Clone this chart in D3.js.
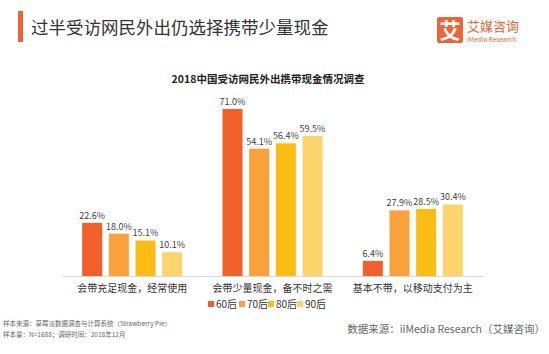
<!DOCTYPE html>
<html>
<head>
<meta charset="utf-8">
<script src="https://cdn.jsdelivr.net/npm/d3@7"></script>
<style>
  body { margin: 0; background: #fff; }
  text { font-family: "Noto Sans CJK SC", "Noto Sans", sans-serif; }
</style>
</head>
<body>
<script>
var w = 549;
var h = 354;

var categories = ["会带充足现金，经常使用", "会带少量现金，备不时之需", "基本不带，以移动支付为主"];
var series = ["60后", "70后", "80后", "90后"];
var values = [
  [22.6, 71.0, 6.4],
  [18.0, 54.1, 27.9],
  [15.1, 56.4, 28.5],
  [10.1, 59.5, 30.4]
];
var colors = ["#f15f2b", "#f9a23c", "#fbbd14", "#fdd46d"];

var svg = d3.select("body")
    .append("svg")
    .attr("width", w)
    .attr("height", h);

// header
svg.append("rect")
    .attr("x", 18).attr("y", 11)
    .attr("width", 5).attr("height", 31)
    .attr("fill", "#e8673a");

svg.append("text")
    .attr("x", 31).attr("y", 34)
    .style("font-size", "17.5px")
    .attr("fill", "#333")
    .text("过半受访网民外出仍选择携带少量现金");

// logo
svg.append("rect")
    .attr("x", 437).attr("y", 17)
    .attr("width", 26).attr("height", 26)
    .attr("rx", 2)
    .attr("fill", "#e8673a");
svg.append("text")
    .attr("x", 450).attr("y", 38)
    .style("text-anchor", "middle")
    .style("font-size", "21px")
    .style("font-weight", "bold")
    .attr("fill", "#fff")
    .text("艾");
svg.append("text")
    .attr("x", 467).attr("y", 31)
    .style("font-size", "13px")
    .attr("fill", "#e8673a")
    .text("艾媒咨询");
svg.append("text")
    .attr("x", 467).attr("y", 42)
    .style("font-size", "6.5px")
    .attr("fill", "#e8673a")
    .text("iMedia Research");

// chart title
svg.append("text")
    .attr("x", 268).attr("y", 83)
    .style("text-anchor", "middle")
    .style("font-size", "10.5px")
    .style("font-weight", "bold")
    .attr("fill", "#222")
    .text("2018中国受访网民外出携带现金情况调查");

var x0 = d3.scaleBand()
    .domain(categories)
    .range([62, 483]);

var x1 = d3.scaleBand()
    .domain(series)
    .range([0, 100])
    .paddingInner(0.25)
    .paddingOuter(0);

var y = d3.scaleLinear()
    .domain([0, 71])
    .range([276, 109]);

var groups = svg.append("g")
    .selectAll("g")
    .data(categories)
    .enter()
    .append("g")
    .attr("transform", function(d) {
      return "translate(" + (x0(d) + x0.bandwidth() / 2 - 50) + ",0)";
    });

groups.selectAll("rect")
    .data(function(d, ci) { return series.map(function(s, si) { return { s: s, si: si, v: values[si][ci] }; }); })
    .enter()
    .append("rect")
    .attr("x", function(d) { return x1(d.s); })
    .attr("y", function(d) { return y(d.v); })
    .attr("width", x1.bandwidth())
    .attr("height", function(d) { return y(0) - y(d.v); })
    .attr("fill", function(d) { return colors[d.si]; });

groups.selectAll("text")
    .data(function(d, ci) { return series.map(function(s, si) { return { s: s, si: si, v: values[si][ci] }; }); })
    .enter()
    .append("text")
    .attr("x", function(d) { return x1(d.s) + x1.bandwidth() / 2; })
    .attr("y", function(d) { return y(d.v) - 4; })
    .style("text-anchor", "middle")
    .style("font-size", "9px")
    .attr("fill", "#404040")
    .text(function(d) { return d.v.toFixed(1) + "%"; });

// axis
var xAxis = d3.axisBottom(x0).tickSize(0).tickPadding(9);
var ax = svg.append("g")
    .attr("transform", "translate(0," + y(0) + ")")
    .call(xAxis);
ax.select(".domain").attr("stroke", "#d9d9d9");
ax.selectAll("text")
    .style("font-size", "10px")
    .style("font-family", "\"Noto Sans CJK SC\", sans-serif")
    .attr("fill", "#333");

// legend
var lx = [208, 239, 268, 297];
var legend = svg.append("g")
    .selectAll("g")
    .data(series)
    .enter()
    .append("g")
    .attr("transform", function(d, i) { return "translate(" + lx[i] + ",304)"; });
legend.append("rect")
    .attr("x", 0).attr("y", -3)
    .attr("width", 6).attr("height", 6)
    .attr("fill", function(d, i) { return colors[i]; });
legend.append("text")
    .attr("x", 8).attr("y", 4)
    .style("font-size", "10px")
    .attr("fill", "#333")
    .text(function(d) { return d; });

// footer
svg.append("text")
    .attr("x", 3).attr("y", 326)
    .style("font-size", "6.5px")
    .attr("fill", "#666")
    .text("样本来源：草莓派数据调查与计算系统（Strawberry Pie）");
svg.append("text")
    .attr("x", 3).attr("y", 337)
    .style("font-size", "6.5px")
    .attr("fill", "#666")
    .text("样本量：N=1688；调研时间：2018年12月");
svg.append("text")
    .attr("x", 545).attr("y", 333)
    .style("text-anchor", "end")
    .style("font-size", "10.5px")
    .attr("fill", "#666")
    .text("数据来源：iiMedia Research（艾媒咨询）");
</script>
</body>
</html>
